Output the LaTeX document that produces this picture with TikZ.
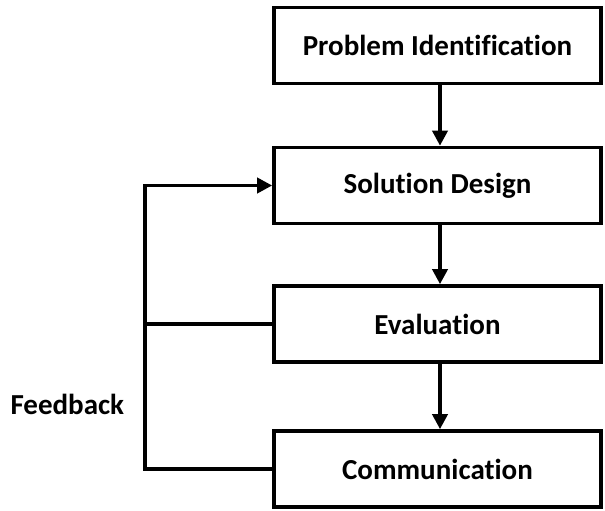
\documentclass[tikz,border=0pt]{standalone}
\usepackage{fontspec}
\setmainfont{Carlito}[Ligatures=NoCommon]
\usetikzlibrary{arrows.meta}
\begin{document}
\begin{tikzpicture}[x=1pt,y=-1pt,
  stage/.style={draw=black, line width=3.6pt, minimum width=327pt, minimum height=76pt,
    font=\fontsize{29}{32}\selectfont\bfseries, inner sep=0pt},
  flow/.style={line width=3.6pt, -{Triangle[length=15pt,width=15pt]}},
  link/.style={line width=3.6pt}]
\useasboundingbox (0,0) rectangle (605,511);
\node[stage] (prob) at (437.5,45.5) {Problem Identification};
\node[stage] (sol)  at (437.5,185.5) {Solution Design};
\node[stage] (eval) at (437.5,324) {Evaluation};
\node[stage] (comm) at (437.5,469) {Communication};
\node[font=\fontsize{29}{32}\selectfont\bfseries, anchor=west] (fb) at (7,404) {Feedback};
\coordinate (top) at (145,185.5);
\coordinate (mid) at (145,324);
\coordinate (bot) at (145,469);
\draw[flow] (prob.south -| 440,0) -- (sol.north -| 440,0);
\draw[flow] (sol.south -| 440,0) -- (eval.north -| 440,0);
\draw[flow] (eval.south -| 440,0) -- (comm.north -| 440,0);
\draw[flow] (comm.west) -- (bot) -- (top) -- (sol.west);
\draw[link] (eval.west) -- (mid);
\end{tikzpicture}
\end{document}
